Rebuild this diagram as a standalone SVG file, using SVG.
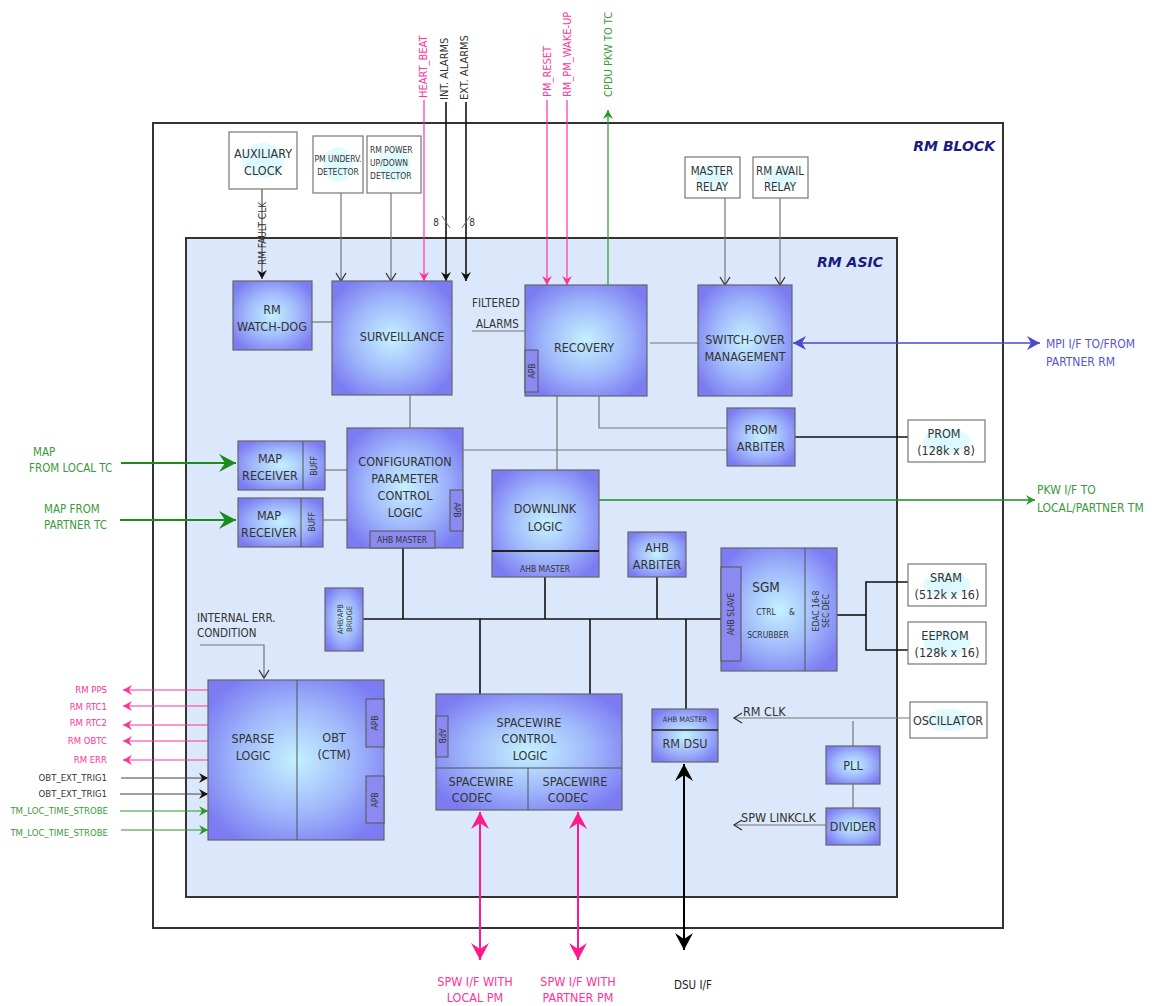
<svg xmlns="http://www.w3.org/2000/svg" width="1155" height="1006" viewBox="0 0 1155 1006">
<defs>
<radialGradient id="blu" cx="50%" cy="50%" r="60%">
<stop offset="0" stop-color="#c4f2ff"/>
<stop offset="0.55" stop-color="#a0b8fb"/>
<stop offset="1" stop-color="#7c7cf2"/>
</radialGradient>
<radialGradient id="wht" cx="50%" cy="50%" r="50%">
<stop offset="0" stop-color="#d8f7ff"/>
<stop offset="0.6" stop-color="#e2fbff"/>
<stop offset="0.62" stop-color="#ffffff"/>
<stop offset="1" stop-color="#ffffff"/>
</radialGradient>
<marker id="aBk" viewBox="-10 -6 12 12" refX="0" refY="0" markerWidth="12" markerHeight="12" markerUnits="userSpaceOnUse" orient="auto"><path d="M-9,-5 L0,0 L-9,5 L-6,0 Z" fill="#111"/></marker>
<marker id="aGy" viewBox="-10 -6 12 12" refX="0" refY="0" markerWidth="12" markerHeight="12" markerUnits="userSpaceOnUse" orient="auto"><path d="M-8,-5 L0,0 L-8,5" fill="none" stroke="#333" stroke-width="1.3"/></marker>
<marker id="aPk" viewBox="-10 -6 12 12" refX="0" refY="0" markerWidth="12" markerHeight="12" markerUnits="userSpaceOnUse" orient="auto"><path d="M-9,-5 L0,0 L-9,5 L-6,0 Z" fill="#ff3399"/></marker>
<marker id="aGs" viewBox="-10 -6 12 12" refX="0" refY="0" markerWidth="12" markerHeight="12" markerUnits="userSpaceOnUse" orient="auto"><path d="M-9,-5 L0,0 L-9,5 L-6,0 Z" fill="#2a9a2a"/></marker>
<marker id="aGb" viewBox="-20 -10 22 20" refX="0" refY="0" markerWidth="22" markerHeight="20" markerUnits="userSpaceOnUse" orient="auto"><path d="M-17,-9 L0,0 L-17,9 L-11,0 Z" fill="#1a8c1a"/></marker>
<marker id="aPb" viewBox="-20 -10 22 20" refX="0" refY="0" markerWidth="22" markerHeight="20" markerUnits="userSpaceOnUse" orient="auto-start-reverse"><path d="M-17,-9 L0,0 L-17,9 L-11,0 Z" fill="#ff1a8c"/></marker>
<marker id="aKb" viewBox="-20 -10 22 20" refX="0" refY="0" markerWidth="22" markerHeight="20" markerUnits="userSpaceOnUse" orient="auto-start-reverse"><path d="M-17,-9 L0,0 L-17,9 L-11,0 Z" fill="#000"/></marker>
<marker id="aBl" viewBox="-16 -9 18 18" refX="0" refY="0" markerWidth="18" markerHeight="18" markerUnits="userSpaceOnUse" orient="auto-start-reverse"><path d="M-13,-7 L0,0 L-13,7 L-9,0 Z" fill="#4a4acc"/></marker>
</defs>
<style>
text{font-family:"DejaVu Sans Condensed","Liberation Sans",sans-serif;fill:#333;text-anchor:middle}
.t{font-size:12.5px}
.s{font-size:10px}
.xs{font-size:8.5px}
.b{fill:url(#blu);stroke:#666;stroke-width:1.2}
.w{fill:url(#wht);stroke:#777;stroke-width:1.2}
.sub{fill:#8a8af0;stroke:#555;stroke-width:1}
.ln{fill:none;stroke:#777;stroke-width:1.2}
.bk{fill:none;stroke:#111;stroke-width:1.6}
.pk{fill:none;stroke:#ff3399;stroke-width:1.2}
.gr{fill:none;stroke:#2a9a2a;stroke-width:1.2}
.pl{fill:#ff3399;font-size:9.5px}
.rl{font-size:11px;text-anchor:start}
.gl{fill:#3a9a3a}
.title{font-family:Verdana,"DejaVu Sans",sans-serif;font-weight:bold;font-style:italic;fill:#1a1a80;font-size:14px;text-anchor:end}
</style>
<rect x="0" y="0" width="1155" height="1006" fill="#fff"/>
<g id="rm-block"><rect x="153" y="123" width="850" height="805" fill="none" stroke="#333" stroke-width="2"/><text class="title" x="995" y="151">RM  BLOCK</text></g>
<g id="rm-asic"><rect x="186" y="238" width="711" height="659" fill="#dbe7fb" stroke="#333" stroke-width="2"/><text class="title" x="883" y="267">RM  ASIC</text></g>

<g id="connectors">
<line class="pk" x1="424" y1="100" x2="424" y2="281" marker-end="url(#aPk)"/>
<line class="bk" x1="446" y1="102" x2="446" y2="281" stroke-width="1.2" marker-end="url(#aBk)"/>
<line class="bk" x1="466" y1="102" x2="466" y2="281" stroke-width="1.2" marker-end="url(#aBk)"/>
<line x1="442" y1="216" x2="450" y2="228" stroke="#777" stroke-width="1"/>
<line x1="462" y1="228" x2="470" y2="216" stroke="#777" stroke-width="1"/>
<line class="pk" x1="547" y1="100" x2="547" y2="285" marker-end="url(#aPk)"/>
<line class="pk" x1="567" y1="100" x2="567" y2="285" marker-end="url(#aPk)"/>
<line class="gr" x1="608" y1="285" x2="608" y2="110" marker-end="url(#aGs)"/>
<line x1="262" y1="189" x2="262" y2="279" stroke="#555" stroke-width="1.2" marker-end="url(#aBk)"/>
<line class="ln" x1="341" y1="193" x2="341" y2="281" stroke="#333" marker-end="url(#aGy)"/>
<line class="ln" x1="391" y1="193" x2="391" y2="281" stroke="#333" marker-end="url(#aGy)"/>
<line class="ln" x1="725" y1="198" x2="725" y2="285" marker-end="url(#aGy)"/>
<line class="ln" x1="780" y1="198" x2="780" y2="285" marker-end="url(#aGy)"/>
<line class="ln" x1="312" y1="322" x2="332" y2="322"/>
<line class="ln" x1="472" y1="331" x2="525" y2="331"/>
<line class="ln" x1="650" y1="343" x2="698" y2="343"/>
<line class="ln" x1="410" y1="395" x2="410" y2="428"/>
<line class="ln" x1="557" y1="396" x2="557" y2="470"/>
<polyline class="ln" points="599,396 599,428 727,428"/>
<line class="ln" x1="463" y1="450" x2="727" y2="450"/>
<line class="ln" x1="325" y1="470" x2="347" y2="470"/>
<line class="ln" x1="323" y1="520" x2="347" y2="520"/>
<line class="bk" x1="795" y1="437" x2="908" y2="437"/>
<line x1="793" y1="343" x2="1040" y2="343" stroke="#4a4acc" stroke-width="1.6" marker-start="url(#aBl)" marker-end="url(#aBl)"/>
<line x1="121" y1="463" x2="236" y2="463" stroke="#1a8c1a" stroke-width="2.2" marker-end="url(#aGb)"/>
<line x1="120" y1="520" x2="236" y2="520" stroke="#1a8c1a" stroke-width="2.2" marker-end="url(#aGb)"/>
<line x1="599" y1="500" x2="1035" y2="500" stroke="#1a8c1a" stroke-width="1.6" marker-end="url(#aGs)"/>
<line class="bk" x1="363" y1="619" x2="721" y2="619"/>
<line class="bk" x1="403" y1="548" x2="403" y2="619"/>
<line class="bk" x1="545" y1="577" x2="545" y2="619"/>
<line class="bk" x1="657" y1="577" x2="657" y2="619"/>
<line class="bk" x1="480" y1="619" x2="480" y2="694"/>
<line class="bk" x1="590" y1="619" x2="590" y2="694"/>
<line class="bk" x1="686" y1="619" x2="686" y2="709"/>
<polyline class="bk" points="837,615 866,615"/>
<polyline class="bk" points="908,582 866,582 866,650 908,650"/>
<line class="ln" x1="910" y1="718" x2="734" y2="718" marker-end="url(#aGy)"/>
<line class="ln" x1="853" y1="721" x2="853" y2="746"/>
<line class="ln" x1="853" y1="784" x2="853" y2="808"/>
<line class="ln" x1="826" y1="825" x2="734" y2="825" marker-end="url(#aGy)"/>
<polyline class="ln" points="200,645 264,645 264,678" stroke="#333" marker-end="url(#aGy)"/>
<line class="pk" x1="208" y1="690" x2="123" y2="690" marker-end="url(#aPk)"/>
<line class="pk" x1="208" y1="706" x2="123" y2="706" marker-end="url(#aPk)"/>
<line class="pk" x1="208" y1="725" x2="123" y2="725" marker-end="url(#aPk)"/>
<line class="pk" x1="208" y1="741" x2="123" y2="741" marker-end="url(#aPk)"/>
<line class="pk" x1="208" y1="760" x2="123" y2="760" marker-end="url(#aPk)"/>
<line x1="121" y1="778" x2="208" y2="778" stroke="#444" stroke-width="1" marker-end="url(#aBk)"/>
<line x1="120" y1="794" x2="208" y2="794" stroke="#444" stroke-width="1" marker-end="url(#aBk)"/>
<line class="gr" x1="120" y1="811" x2="208" y2="811" marker-end="url(#aGs)"/>
<line class="gr" x1="121" y1="830" x2="208" y2="830" marker-end="url(#aGs)"/>
</g>

<g id="ext-labels">
<text class="rl" transform="translate(427,98) rotate(-90)" style="fill:#ff3399">HEART_BEAT</text>
<text class="rl" transform="translate(448,100) rotate(-90)">INT. ALARMS</text>
<text class="rl" transform="translate(468,100) rotate(-90)">EXT. ALARMS</text>
<text class="rl" transform="translate(551,97) rotate(-90)" style="fill:#ff3399">PM_RESET</text>
<text class="rl" transform="translate(571,97) rotate(-90)" style="fill:#ff3399">RM_PM_WAKE-UP</text>
<text class="rl" transform="translate(612,97) rotate(-90)" style="fill:#3a9a3a">CPDU PKW TO TC</text>
<text class="s" x="436" y="226">8</text>
<text class="s" x="472" y="226">8</text>
<text class="s" transform="translate(266,265) rotate(-90)" style="text-anchor:start;font-size:10px">RM FAULT CLK</text>
<text x="472" y="307" style="text-anchor:start;font-size:11.5px">FILTERED</text>
<text x="476" y="328" style="text-anchor:start;font-size:11.5px">ALARMS</text>
<text class="gl" x="33" y="456" style="text-anchor:start;font-size:11.5px">MAP</text>
<text class="gl" x="29" y="472" style="text-anchor:start;font-size:11.5px">FROM LOCAL  TC</text>
<text class="gl" x="44" y="513" style="text-anchor:start;font-size:11.5px">MAP FROM</text>
<text class="gl" x="44" y="529" style="text-anchor:start;font-size:11.5px">PARTNER   TC</text>
<text x="1046" y="348" style="text-anchor:start;fill:#5555cc;font-size:12px">MPI I/F TO/FROM</text>
<text x="1046" y="366" style="text-anchor:start;fill:#5555cc;font-size:12px">PARTNER RM</text>
<text class="gl" x="1037" y="494" style="text-anchor:start;font-size:12px">PKW I/F TO</text>
<text class="gl" x="1037" y="512" style="text-anchor:start;font-size:12px">LOCAL/PARTNER TM</text>
<text x="197" y="622" style="text-anchor:start;font-size:11.5px">INTERNAL ERR.</text>
<text x="197" y="637" style="text-anchor:start;font-size:11.5px">CONDITION</text>
<text class="t" x="743" y="716" style="text-anchor:start">RM CLK</text>
<text class="t" x="741" y="822" style="text-anchor:start">SPW  LINKCLK</text>
<text class="pl" x="107" y="693" style="text-anchor:end">RM PPS</text>
<text class="pl" x="107" y="710" style="text-anchor:end">RM  RTC1</text>
<text class="pl" x="107" y="726" style="text-anchor:end">RM  RTC2</text>
<text class="pl" x="107" y="744" style="text-anchor:end">RM  OBTC</text>
<text class="pl" x="107" y="763" style="text-anchor:end">RM ERR</text>
<text x="107" y="781" style="text-anchor:end;font-size:9.5px">OBT_EXT_TRIG1</text>
<text x="107" y="797" style="text-anchor:end;font-size:9.5px">OBT_EXT_TRIG1</text>
<text class="gl" x="108" y="814" style="text-anchor:end;font-size:9.5px">TM_LOC_TIME_STROBE</text>
<text class="gl" x="108" y="836" style="text-anchor:end;font-size:9.5px">TM_LOC_TIME_STROBE</text>
<text x="475" y="986" style="fill:#ff3399;font-size:12.5px">SPW I/F  WITH</text>
<text x="475" y="1002" style="fill:#ff3399;font-size:12.5px">LOCAL PM</text>
<text x="578" y="986" style="fill:#ff3399;font-size:12.5px">SPW I/F WITH</text>
<text x="578" y="1002" style="fill:#ff3399;font-size:12.5px">PARTNER PM</text>
<text x="693" y="989" style="fill:#222;font-size:11.5px">DSU I/F</text>
</g>

<g id="aux-clock"><rect class="w" x="229" y="132" width="68" height="57"/><text class="t" x="263" y="158">AUXILIARY</text><text class="t" x="263" y="175">CLOCK</text></g>
<g id="pm-underv"><rect class="w" x="313" y="136" width="50" height="57"/><text class="xs" x="338" y="162">PM UNDERV.</text><text class="xs" x="338" y="175">DETECTOR</text></g>
<g id="rm-power"><rect class="w" x="367" y="136" width="54" height="57"/><text class="xs" x="370" y="153" style="text-anchor:start">RM POWER</text><text class="xs" x="370" y="166" style="text-anchor:start">UP/DOWN</text><text class="xs" x="370" y="179" style="text-anchor:start">DETECTOR</text></g>
<g id="master-relay"><rect class="w" x="685" y="157" width="55" height="41"/><text x="712" y="175" style="font-size:11.5px">MASTER</text><text x="712" y="191" style="font-size:11.5px">RELAY</text></g>
<g id="avail-relay"><rect class="w" x="753" y="157" width="55" height="41"/><text x="780" y="175" style="font-size:11.5px">RM AVAIL</text><text x="780" y="191" style="font-size:11.5px">RELAY</text></g>
<g id="prom"><rect class="w" x="908" y="420" width="77" height="42"/><text class="t" x="944" y="438">PROM</text><text class="t" x="946" y="455">(128k x 8)</text></g>
<g id="sram"><rect class="w" x="908" y="564" width="78" height="42"/><text class="t" x="946" y="582">SRAM</text><text class="t" x="947" y="599">(512k x 16)</text></g>
<g id="eeprom"><rect class="w" x="908" y="622" width="78" height="42"/><text class="t" x="945" y="640">EEPROM</text><text class="t" x="947" y="657">(128k x 16)</text></g>
<g id="oscillator"><rect class="w" x="910" y="702" width="77" height="36"/><text class="t" x="948" y="725">OSCILLATOR</text></g>

<g id="watchdog"><rect class="b" x="233" y="281" width="79" height="69"/><text class="t" x="272" y="314">RM</text><text class="t" x="272" y="331">WATCH-DOG</text></g>
<g id="surveillance"><rect class="b" x="332" y="281" width="120" height="114"/><text class="t" x="402" y="341">SURVEILLANCE</text></g>
<g id="recovery"><rect class="b" x="525" y="285" width="122" height="111"/><text class="t" x="584" y="352">RECOVERY</text><rect class="sub" x="525" y="350" width="13" height="42"/><text class="xs" transform="translate(535,371) rotate(-90)">APB</text></g>
<g id="switchover"><rect class="b" x="698" y="285" width="94" height="111"/><text class="t" x="745" y="344">SWITCH-OVER</text><text class="t" x="745" y="361">MANAGEMENT</text></g>
<g id="prom-arbiter"><rect class="b" x="727" y="408" width="68" height="58"/><text class="t" x="761" y="434">PROM</text><text class="t" x="761" y="451">ARBITER</text></g>
<g id="map-rx1"><rect class="b" x="238" y="441" width="87" height="49"/><line x1="303" y1="441" x2="303" y2="490" stroke="#555"/><text class="t" x="270" y="463">MAP</text><text class="t" x="270" y="480">RECEIVER</text><text class="xs" transform="translate(317,466) rotate(-90)">BUFF</text></g>
<g id="map-rx2"><rect class="b" x="238" y="498" width="85" height="49"/><line x1="301" y1="498" x2="301" y2="547" stroke="#555"/><text class="t" x="269" y="520">MAP</text><text class="t" x="269" y="537">RECEIVER</text><text class="xs" transform="translate(315,522) rotate(-90)">BUFF</text></g>
<g id="config"><rect class="b" x="347" y="428" width="116" height="120"/><text class="t" x="405" y="466">CONFIGURATION</text><text class="t" x="405" y="483">PARAMETER</text><text class="t" x="405" y="500">CONTROL</text><text class="t" x="405" y="517">LOGIC</text><rect class="sub" x="450" y="490" width="13" height="41"/><text class="xs" transform="translate(454,510) rotate(90)">APB</text><rect class="sub" x="370" y="531" width="65" height="17"/><text class="xs" x="402" y="543">AHB MASTER</text></g>
<g id="downlink"><rect class="b" x="492" y="470" width="107" height="107"/><line x1="492" y1="551" x2="599" y2="551" stroke="#222" stroke-width="2"/><text class="t" x="545" y="513">DOWNLINK</text><text class="t" x="545" y="531">LOGIC</text><text class="xs" x="545" y="572">AHB MASTER</text></g>
<g id="ahb-arbiter"><rect class="b" x="628" y="532" width="58" height="45"/><text class="t" x="657" y="552">AHB</text><text class="t" x="657" y="569">ARBITER</text></g>
<g id="sgm"><rect class="b" x="721" y="548" width="116" height="123"/><line x1="805" y1="548" x2="805" y2="671" stroke="#555"/><rect class="sub" x="721" y="567" width="20" height="94"/><text class="xs" transform="translate(734,614) rotate(-90)">AHB SLAVE</text><text x="766" y="592" style="font-size:13.5px">SGM</text><text class="xs" x="766" y="615">CTRL</text><text class="xs" x="792" y="615">&amp;</text><text class="xs" x="768" y="638">SCRUBBER</text><text class="xs" transform="translate(819,611) rotate(-90)">EDAC  16-8</text><text class="xs" transform="translate(829,611) rotate(-90)">SEC DEC</text></g>
<g id="bridge"><rect class="b" x="325" y="588" width="38" height="63"/><text class="xs" transform="translate(343,619) rotate(-90)" style="font-size:7.5px">AHB/APB</text><text class="xs" transform="translate(352,619) rotate(-90)" style="font-size:7.5px">BRIDGE</text></g>
<g id="sparse-obt"><rect class="b" x="208" y="680" width="176" height="160"/><line x1="297" y1="680" x2="297" y2="840" stroke="#555"/><text class="t" x="253" y="743">SPARSE</text><text class="t" x="253" y="760">LOGIC</text><text class="t" x="334" y="742">OBT</text><text class="t" x="334" y="759">(CTM)</text><rect class="sub" x="366" y="699" width="18" height="48"/><text class="xs" transform="translate(378,723) rotate(-90)">APB</text><rect class="sub" x="366" y="776" width="18" height="47"/><text class="xs" transform="translate(378,800) rotate(-90)">APB</text></g>
<g id="spacewire"><rect class="b" x="436" y="694" width="186" height="116"/><line x1="436" y1="768" x2="622" y2="768" stroke="#555"/><line x1="528" y1="768" x2="528" y2="810" stroke="#555"/><rect class="sub" x="436" y="716" width="12" height="41"/><text class="xs" transform="translate(439,736) rotate(90)">APB</text><text class="t" x="529" y="727">SPACEWIRE</text><text class="t" x="529" y="743">CONTROL</text><text class="t" x="530" y="760">LOGIC</text><text class="t" x="481" y="786">SPACEWIRE</text><text class="t" x="472" y="802">CODEC</text><text class="t" x="575" y="786">SPACEWIRE</text><text class="t" x="568" y="802">CODEC</text></g>
<g id="rm-dsu"><rect class="b" x="652" y="709" width="66" height="53"/><line x1="652" y1="730" x2="718" y2="730" stroke="#222" stroke-width="1.5"/><text x="685" y="722" style="font-size:7.5px">AHB MASTER</text><text class="t" x="685" y="748">RM DSU</text></g>
<g id="pll"><rect class="b" x="826" y="746" width="54" height="38"/><text class="t" x="853" y="770">PLL</text></g>
<g id="divider"><rect class="b" x="826" y="808" width="54" height="37"/><text class="t" x="853" y="831">DIVIDER</text></g>

<g id="double-arrows">
<line x1="684" y1="764" x2="684" y2="950" stroke="#000" stroke-width="2" marker-start="url(#aKb)" marker-end="url(#aKb)"/>
<line x1="480" y1="812" x2="480" y2="960" stroke="#ff1a8c" stroke-width="2" marker-start="url(#aPb)" marker-end="url(#aPb)"/>
<line x1="578" y1="812" x2="578" y2="960" stroke="#ff1a8c" stroke-width="2" marker-start="url(#aPb)" marker-end="url(#aPb)"/>
</g>
</svg>
